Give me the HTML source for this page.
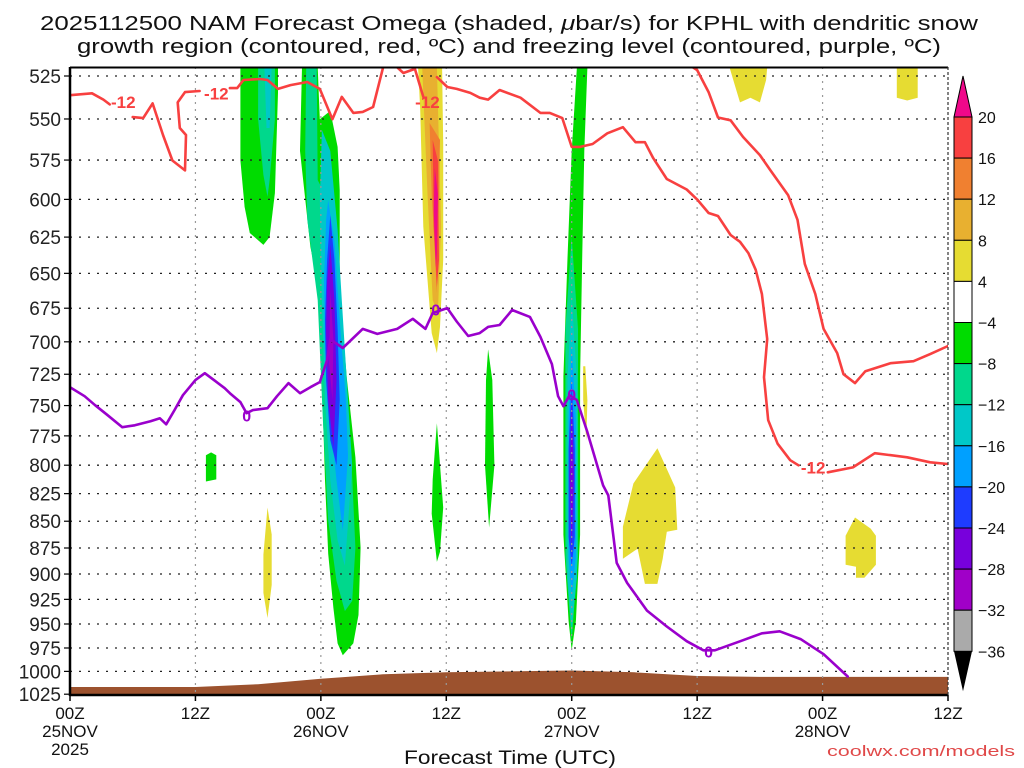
<!DOCTYPE html>
<html><head><meta charset="utf-8"><title>NAM Omega KPHL</title>
<style>
html,body{margin:0;padding:0;background:#fff;}
svg{display:block;font-family:"Liberation Sans",sans-serif;}
</style></head>
<body>
<svg id="chart" width="1024" height="768" viewBox="0 0 1024 768" xmlns="http://www.w3.org/2000/svg">
<defs><clipPath id="plotclip"><rect x="70" y="67" width="878" height="628"/></clipPath></defs>
<g id="title">
<text x="509" y="30" text-anchor="middle" font-size="20" textLength="938" lengthAdjust="spacingAndGlyphs" fill="#111">2025112500 NAM Forecast Omega (shaded, <tspan font-style="italic">μ</tspan>bar/s) for KPHL with dendritic snow</text>
<text x="509" y="53" text-anchor="middle" font-size="20" textLength="864" lengthAdjust="spacingAndGlyphs" fill="#111">growth region (contoured, red, ºC) and freezing level (contoured, purple, ºC)</text>
</g>
<g id="shading" clip-path="url(#plotclip)"></g>
<g id="terrain"></g>
<g id="grid"></g>
<g id="contours" clip-path="url(#plotclip)"></g>
<g id="axes"></g>
<g id="colorbar"></g>
<text x="510" y="764" text-anchor="middle" font-size="19" textLength="212" lengthAdjust="spacingAndGlyphs" fill="#111">Forecast Time (UTC)</text>
<text x="1015" y="756" text-anchor="end" font-size="15" textLength="188" lengthAdjust="spacingAndGlyphs" fill="#e04848">coolwx.com/models</text>
</svg>
<script>
// ---- axis data ----
const pressureTicks = [525,550,575,600,625,650,675,700,725,750,775,800,825,850,875,900,925,950,975,1000,1025];
const timeTicksHours = [0,12,24,36,48,60,72,84];
const timeTickLabels = [["00Z","25NOV","2025"],["12Z"],["00Z","26NOV"],["12Z"],["00Z","27NOV"],["12Z"],["00Z","28NOV"],["12Z"]];
// ---- surface pressure (terrain), every 6 h ----
const sfcHours = [0,6,12,18,24,30,36,42,48,54,60,66,72,78,84];
const sfcPressure = [1017,1017,1017,1014,1008,1003,1001,1000,999,1001,1005,1006,1006,1006,1006];
// ---- colorbar ----
const cbLevels = [20,16,12,8,4,-4,-8,-12,-16,-20,-24,-28,-32,-36];
const cbColors = ["#f84040","#f08030","#e8b030","#e6dc32","#ffffff","#00dc00","#00d88c","#00c8c8","#00a0ff","#1e3cff","#7800dc","#a000c8","#aaaaaa"];
// ---- omega shaded regions [hour, hPa] ----
const greenA = [[16.3,520],[19.9,520],[19.9,534.7],[19.6,595.9],[19.1,624.9],[18.5,630.3],[17.2,622.2],[16.7,604.9],[16.3,575.3]];
const tealA = [[18.0,520],[19.6,520],[19.6,550.1],[19.1,587.6],[18.9,598.4],[18.5,584.4],[18.0,550.1]];
const cyanA = [[18.6,520],[19.3,520],[19.1,555.4],[18.8,555.4]];
const greenB = [[22.2,520],[22.0,569.4],[23.0,631.7],[23.9,664],[24.1,729.6],[24.4,813.3],[24.7,880.5],[25.2,933.7],[25.6,970.2],[26.1,982.6],[27.1,970.2],[27.6,940.8],[27.8,874.7],[27.3,793.2],[26.5,729.6],[25.8,664],[25.8,593.9],[25.6,566.9],[24.9,545.2],[23.9,550.1],[23.7,520]];
const tealB = [[22.6,520],[23.6,520],[23.7,587.6],[24.7,600.6],[25.6,669.1],[26.2,737.6],[26.9,792],[27.3,874.7],[27.0,926.6],[26.3,936.8],[25.5,906.7],[24.7,849.4],[24.2,762],[23.7,669.1],[22.7,613.5],[22.5,569.4]];
const cyanB = [[24.1,556.6],[24.9,569.4],[25.6,620.2],[26.0,669.1],[26.6,745.6],[27.0,800.1],[26.3,892],[25.6,867.8],[24.9,813.3],[24.4,745.6],[24.1,669.1],[23.9,600.6]];
const blueB = [[24.7,600.6],[25.3,627.6],[25.8,683.6],[26.4,745.6],[26.6,792],[26.1,858.7],[25.5,813.3],[24.9,762],[24.4,706.2],[24.3,655.5],[24.5,613.5]];
const dblueB = [[24.9,610.3],[25.3,640.6],[25.6,690.3],[25.8,745.6],[25.5,800.1],[24.9,778.6],[24.5,729.6],[24.4,683.6],[24.6,640.6]];
const violetB = [[24.9,630.3],[25.3,669.1],[25.5,729.6],[25.2,784.6],[24.7,745.6],[24.5,692.5],[24.6,655.5]];
const purpleB = [[24.9,662.4],[25.2,698.1],[25.1,745.6],[24.8,716.4]];
const yellowC = [[33.3,520],[35.6,520],[35.7,564.6],[35.7,640.6],[35.4,688.8],[35.1,708.6],[34.6,693.4],[33.8,618.1],[33.5,544.2]];
const amberC = [[33.7,520],[35.1,520],[35.5,618.1],[35.2,678.5],[34.7,669.1],[34.2,596.5]];
const orangeC = [[34.4,552.4],[35.4,562.6],[35.1,664],[34.6,596.5]];
const redC = [[34.7,562.6],[35.2,575.3],[35.3,640.6],[35.1,659.7],[34.8,618.1]];
const magentaC = [[34.9,579.9],[35.2,596.5],[35.1,636],[35.0,645.6],[34.8,607.2]];
const greenSmall1 = [[13.5,789],[14.0,791.5],[14.0,812.4],[13.0,814.2],[13.0,791.5]];
const yellowSmall1 = [[18.9,837.5],[19.3,862.4],[19.3,910.7],[18.9,943.9],[18.5,918.6],[18.5,881.4]];
const greenSmall2 = [[35.1,764.5],[35.7,837.5],[35.4,878.5],[35.1,888.3],[34.6,843.1],[34.7,812.4]];
const greenSmall3 = [[40.0,705.6],[40.4,729.6],[40.6,800.1],[40.1,855.9],[39.7,800.1],[39.8,729.6]];
const greenD = [[48.5,520],[49.5,520],[49.2,569.4],[49.0,639.3],[48.8,726.5],[48.8,862.4],[48.4,947],[48.0,977.3],[47.7,947],[47.2,862.4],[47.2,726.5],[47.6,639.3],[48.0,569.4]];
const tealD = [[48.0,624.9],[48.6,690.3],[48.6,883.3],[48.0,967],[47.4,883.3],[47.4,690.3]];
const cyanD = [[48.0,666.2],[48.5,729.6],[48.5,903.7],[48.0,953.2],[47.6,903.7],[47.6,729.6]];
const blueD = [[48.0,703.2],[48.4,762],[48.4,883.3],[48.0,922.6],[47.7,883.3],[47.7,762]];
const dblueD = [[48.0,729.6],[48.3,786.3],[48.3,864.3],[48.0,893],[47.7,864.3],[47.7,786.3]];
const violetD = [[48.0,745.6],[48.2,809.7],[48.0,877.6],[47.8,809.7]];
const yellowSmall2 = [[49.3,718.7],[49.5,745.6],[49.4,779],[49.1,745.6],[49.1,718.7]];
const yellowBig = [[56.2,785.5],[57.9,819.5],[58.1,857.9],[57.1,859.8],[56.7,885.3],[56.2,909.7],[55.0,909.7],[54.3,875.7],[52.9,885.3],[52.9,855],[53.9,816]];
const yellowTop1 = [[63.1,520],[66.7,520],[66.6,527.3],[66.0,540.2],[65.1,537.5],[64.1,540.2],[63.6,530.2]];
const yellowTop2 = [[79.1,520],[81.1,520],[81.1,537.5],[80.1,539.1],[79.1,537.5]];
const yellowRight = [[75.1,846.6],[76.6,856.8],[77.1,863.4],[77.1,891],[76.0,903.7],[75.2,903.7],[75.2,892.9],[74.2,891],[74.2,863.4]];
// ---- -12 C contour (red) segments ----
const redA1 = [[0,536],[2.1,534.9],[3.2,538.6],[3.8,541.4]];
const redA2 = [[6.0,548.9],[7.0,549.5],[7.9,540.8],[8.9,559.6],[9.8,575.3],[11.0,581.5],[11.1,559.6],[10.5,555.4],[10.3,540.2],[11.0,534.2],[12.4,533.6]];
const redA3 = [[15.3,531.9],[16.0,531.9],[16.6,527.3],[18.2,526.7],[18.9,527.3],[19.9,532.4],[21.1,530.2],[22.7,528.4],[23.9,532.4],[25.1,550.1],[26.0,537],[27.1,546.4],[28.0,545.8],[29.0,542.9],[30.0,519]];
const redB1 = [[31.1,519],[31.9,523.3],[33.0,521],[33.8,537]];
const redB2 = [[35.1,525.6],[36.1,531.3],[37.0,532.4],[38.3,534.7],[39.2,537.5],[40.0,538.6],[41.1,533],[43.1,537.5],[45.0,546.4],[45.9,546.4],[47.1,549.5],[48.0,566.9],[48.8,566.9],[50.0,565.1],[51.4,558.6],[52.9,554.9],[54.1,564],[55.0,564],[55.8,573.8],[57.1,586.9],[59.0,593.6],[60.0,600],[61.1,608.9],[62.0,610.9],[63.2,623.6],[64.1,628.2],[64.9,635.9],[65.6,647.5],[66.2,664.7],[66.7,697.9],[66.4,727.3],[66.8,762],[67.7,781.6],[68.9,795.7],[69.7,800.1]];
const redB3 = [[72.5,806.2],[74.9,801.9],[77.0,789.7],[80.1,793.2],[82.3,797.5],[84.0,799]];
const redC1 = [[59.3,519],[60.0,521.6],[61.1,534.2],[62.0,549.1],[63.2,550.8],[64.4,560.8],[66.0,571.9],[67.0,581.3],[68.7,597.2],[69.6,613.4],[70.3,643.4],[71.3,664.7],[72.1,690.3],[73.4,708.6],[74.0,725],[75.1,732],[76.1,722.6],[78.5,716.4],[80.7,714.8],[82.3,709.4],[84.0,703.2]];
const redLabels = [[5.1,540],[14.0,535],[34.2,540],[71.1,802]];
// ---- 0 C freezing level (purple) ----
const purpleLine = [[0,735.2],[1.4,742.4],[2.4,749.7],[3.6,757.9],[5.0,767.8],[6.2,766.2],[7.7,762.8],[8.6,760.4],[9.2,765.4],[10.0,753.7],[10.8,741.6],[12.0,729.6],[12.9,724.2],[13.9,730.4],[14.8,736],[15.3,740],[16.3,747.2],[16.9,756.2],[17.5,753.7],[18.9,752.1],[19.8,742.4],[20.9,732],[22.0,740],[23.0,735.2],[23.9,731.2],[24.6,714],[24.9,698.1],[26.1,704.7],[28.0,690.3],[29.4,694],[31.3,690.3],[32.8,682.8],[34.0,690.3],[34.7,678.5],[36.1,674.9],[37.0,684.8],[38.1,695.6],[39.2,693.4],[40.0,688.8],[41.1,687.4],[42.3,676.3],[44.0,681.4],[45.0,696.3],[46.1,717.1],[46.7,742.4],[47.2,750.5],[47.8,741.6],[48.5,745.6],[49.5,771.9],[51.0,817.7],[51.5,826.6],[52.3,889.2],[53.3,908.7],[55.2,936.3],[57.1,952.6],[59.0,967.9],[60.6,977.4],[61.7,977.4],[64.1,968],[66.2,959.6],[67.9,957.5],[69.9,965.7],[72.1,981.6],[74.4,1005.5]];
const purpleLabels = [[16.9,758],[35.0,676],[48.0,741],[61.1,978.5]];

// ---- scales ----
const X = h => 70 + h * 878 / 84;
const Y = p => 76 + 924 * Math.log(p / 525);
const NS = "http://www.w3.org/2000/svg";
function mk(tag, parent, attrs) {
  const el = document.createElementNS(NS, tag);
  for (const k in attrs) el.setAttribute(k, attrs[k]);
  parent.appendChild(el);
  return el;
}
const pts = arr => arr.map(d => X(d[0]).toFixed(1) + "," + Y(d[1]).toFixed(1)).join(" ");

// shading
const shading = document.getElementById("shading");
const regions = [
  [greenA,"#00dc00"],[tealA,"#00d88c"],[cyanA,"#00c8c8"],
  [greenB,"#00dc00"],[tealB,"#00d88c"],[cyanB,"#00c8c8"],[blueB,"#00a0ff"],[dblueB,"#1e3cff"],[violetB,"#7800dc"],[purpleB,"#a000c8"],
  [yellowC,"#e6dc32"],[amberC,"#e8b030"],[orangeC,"#f08030"],[redC,"#f84040"],[magentaC,"#f0088a"],
  [greenSmall1,"#00dc00"],[yellowSmall1,"#e6dc32"],[greenSmall2,"#00dc00"],[greenSmall3,"#00dc00"],
  [greenD,"#00dc00"],[tealD,"#00d88c"],[cyanD,"#00c8c8"],[blueD,"#00a0ff"],[dblueD,"#1e3cff"],[violetD,"#7800dc"],
  [yellowSmall2,"#e6dc32"],[yellowBig,"#e6dc32"],[yellowTop1,"#e6dc32"],[yellowTop2,"#e6dc32"],[yellowRight,"#e6dc32"]
];
regions.forEach(r => {
  const el = mk("polygon", shading, {points: pts(r[0]), fill: r[1]});
  
  
});

// terrain
const terrain = document.getElementById("terrain");
const tpts = sfcHours.map((h,i) => [h, sfcPressure[i]]);
const tEl = mk("polygon", terrain, {points: X(0)+",695 " + pts(tpts) + " " + X(84) + ",695", fill: "#9c522e"});



// grid
const grid = document.getElementById("grid");
pressureTicks.slice(0,-1).forEach(p => {
  const el = mk("line", grid, {x1:70, x2:948, y1:Y(p), y2:Y(p), stroke:"#222", "stroke-width":1.3, "stroke-dasharray":"2,7"});
  
  
});
timeTicksHours.slice(1,-1).forEach(h => {
  const el = mk("line", grid, {x1:X(h), x2:X(h), y1:67, y2:695, stroke:"#999", "stroke-width":1.2, "stroke-dasharray":"2,5"});
  
  
});

// contours
const cont = document.getElementById("contours");
[redA1,redA2,redA3,redB1,redB2,redB3,redC1].forEach(s => {
  const el = mk("polyline", cont, {points: pts(s), fill:"none", stroke:"#f84040", "stroke-width":2.6, "stroke-linejoin":"round", "stroke-linecap":"round"});
  
  
});
const pEl = mk("polyline", cont, {points: pts(purpleLine), fill:"none", stroke:"#9a00cc", "stroke-width":2.6, "stroke-linejoin":"round", "stroke-linecap":"round"});


redLabels.forEach(l => {
  const t = mk("text", cont, {x:X(l[0]), y:Y(l[1])+6, "text-anchor":"middle", "font-size":17, "font-weight":"bold", fill:"#f84040"});
  t.textContent = "-12";
  
  
});
purpleLabels.forEach(l => {
  const t = mk("text", cont, {x:X(l[0]), y:Y(l[1])+6, "text-anchor":"middle", "font-size":16, "font-weight":"bold", fill:"#9a00cc"});
  t.textContent = "0";
  
  
});

// axes
const axes = document.getElementById("axes");
mk("line", axes, {x1:70, x2:948, y1:67.5, y2:67.5, stroke:"#000", "stroke-width":2});
mk("line", axes, {x1:70, x2:948, y1:695, y2:695, stroke:"#000", "stroke-width":2.5});
mk("line", axes, {x1:70, x2:70, y1:67, y2:696, stroke:"#000", "stroke-width":2.5});
mk("line", axes, {x1:948, x2:948, y1:67, y2:696, stroke:"#333", "stroke-width":1.2, "stroke-dasharray":"3,2"});
pressureTicks.forEach(p => {
  mk("line", axes, {x1:64, x2:70, y1:Y(p), y2:Y(p), stroke:"#000", "stroke-width":1.2});
  const t = mk("text", axes, {x:61, y:Y(p)+7, "text-anchor":"end", "font-size":19, fill:"#222"});
  t.textContent = p;
  
  
});
timeTicksHours.forEach((h,i) => {
  mk("line", axes, {x1:X(h), x2:X(h), y1:695, y2:701, stroke:"#000", "stroke-width":1.5});
  timeTickLabels[i].forEach((s,j) => {
    const t = mk("text", axes, {x:X(h), y:719 + j*18, "text-anchor":"middle", "font-size":17, fill:"#111"});
    t.textContent = s;
    
    
  });
});

// colorbar
const cb = document.getElementById("colorbar");
const cbTop = 117, cbStep = 41.1, cbX = 954, cbW = 18;
const triT = mk("polygon", cb, {points: `${cbX},${cbTop} ${cbX+cbW},${cbTop} ${cbX+cbW/2},${cbTop-41}`, fill:"#f0088a", stroke:"#000", "stroke-width":1});


cbColors.forEach((c,i) => {
  const el = mk("rect", cb, {x:cbX, y:cbTop + i*cbStep, width:cbW, height:cbStep, fill:c, stroke:"#000", "stroke-width":1});
  
  
});
const botY = cbTop + cbColors.length*cbStep;
const triB = mk("polygon", cb, {points: `${cbX},${botY} ${cbX+cbW},${botY} ${cbX+cbW/2},${botY+40}`, fill:"#000"});


cbLevels.forEach((v,i) => {
  const t = mk("text", cb, {x:978, y:cbTop + i*cbStep + 6, "font-size":16, fill:"#111"});
  t.textContent = v < 0 ? "\u2212" + Math.abs(v) : String(v);
  
  
});
</script>
</body></html>
